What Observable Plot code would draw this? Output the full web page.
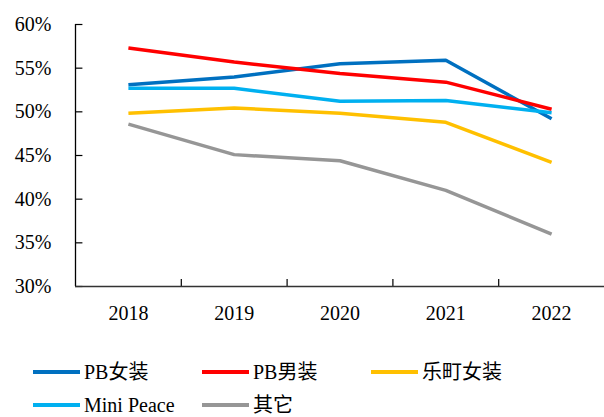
<!DOCTYPE html>
<html>
<head>
<meta charset="utf-8">
<script src="https://cdn.jsdelivr.net/npm/d3@7"></script>
<script src="https://cdn.jsdelivr.net/npm/@observablehq/plot@0.6"></script>
<style>
  body { margin: 0; background: #fff; width: 604px; height: 417px; overflow: hidden; position: relative; }
  #chart { position: absolute; left: 0; top: 0; }
  .legend { position: absolute; left: 0; top: 0; width: 604px; font-family: "Liberation Serif", "Times New Roman", "Noto Sans CJK SC", serif; font-size: 20px; line-height: 20px; color: #000; }
  .item { position: absolute; display: flex; align-items: center; white-space: nowrap; height: 20px; }
  .sw { width: 47px; height: 4px; margin-right: 4px; }
</style>
</head>
<body>
<div id="chart"></div>
<div class="legend" id="legend"></div>
<script>
const years = [2018, 2019, 2020, 2021, 2022];
const seriesNames = ["PB女装", "PB男装", "乐町女装", "Mini Peace", "其它"];
const seriesColors = ["#0070C0", "#FF0000", "#FFC000", "#00B0F0", "#969696"];
const pbWomen = [53.1, 54.0, 55.5, 55.9, 49.2];
const pbMen = [57.3, 55.7, 54.4, 53.4, 50.3];
const leting = [49.85, 50.45, 49.85, 48.8, 44.2];
const miniPeace = [52.7, 52.7, 51.2, 51.3, 49.9];
const others = [48.6, 45.1, 44.4, 41.0, 36.0];
const yTicks = [30, 35, 40, 45, 50, 55, 60];

const values = [pbWomen, pbMen, leting, miniPeace, others];
const data = [];
seriesNames.forEach((name, i) => {
  years.forEach((yr, j) => data.push({series: name, year: yr, value: values[i][j]}));
});
const bounds = years.slice(0, -1).map(y => y + 0.5);
const x0 = years[0] - 0.5, x1 = years[years.length - 1] + 0.5;
const yMin = yTicks[0], yMax = yTicks[yTicks.length - 1];

const font = "Liberation Serif, Times New Roman, serif";
const chart = Plot.plot({
  width: 604,
  height: 345,
  marginLeft: 75,
  marginRight: 0,
  marginTop: 24,
  marginBottom: 59,
  style: {fontFamily: font, fontSize: "20px", color: "#000", background: "#fff"},
  x: {domain: [x0, x1], axis: null},
  y: {domain: [yMin, yMax], axis: null},
  color: {domain: seriesNames, range: seriesColors},
  marks: [
    Plot.axisX(years, {tickSize: 0, tickPadding: 19, label: null, tickFormat: d => String(d), fontSize: 20, fontFamily: font, fill: "#000"}),
    Plot.axisY(yTicks, {tickSize: 0, tickPadding: 24, label: null, tickFormat: d => d + "%", fontSize: 20, fontFamily: font, fill: "#000"}),
    Plot.ruleY(yTicks, {y: d => d, x1: x0, x2: x0 + 0.07, stroke: "#000", strokeWidth: 1.2}),
    Plot.ruleX(bounds, {x: d => d, y1: yMin, y2: yMin + 0.8, stroke: "#000", strokeWidth: 1.2}),
    Plot.ruleX([x0], {y1: yMin, y2: yMax, stroke: "#000", strokeWidth: 1.3}),
    Plot.ruleY([yMin], {x1: x0, x2: x1, stroke: "#333", strokeWidth: 1.5}),
    Plot.line(data, {x: "year", y: "value", z: "series", stroke: "series", strokeWidth: 3.5, strokeLinejoin: "round", strokeLinecap: "butt"})
  ]
});
document.getElementById("chart").appendChild(chart);

const legendPos = [
  {left: 33, top: 362}, {left: 202, top: 362}, {left: 371, top: 362},
  {left: 33, top: 395}, {left: 202, top: 395}
];
const legend = document.getElementById("legend");
seriesNames.forEach((name, i) => {
  const item = document.createElement("div");
  item.className = "item";
  item.style.left = legendPos[i].left + "px";
  item.style.top = legendPos[i].top + "px";
  const sw = document.createElement("div");
  sw.className = "sw";
  sw.style.background = seriesColors[i];
  const lb = document.createElement("span");
  lb.textContent = name;
  item.appendChild(sw);
  item.appendChild(lb);
  legend.appendChild(item);
});
</script>
</body>
</html>
